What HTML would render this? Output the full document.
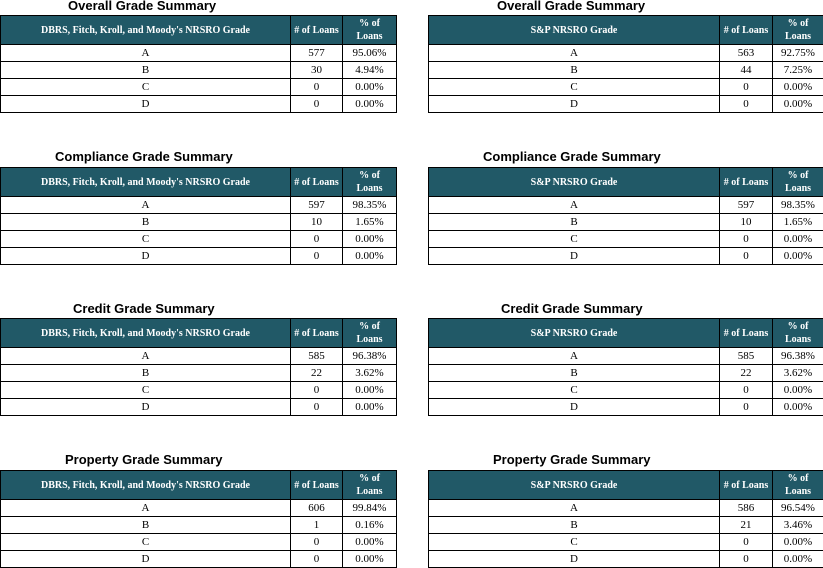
<!DOCTYPE html>
<html><head><style>
body{margin:0;width:823px;height:567px;background:#fff;position:relative;overflow:hidden;font-family:"Liberation Serif",serif;}
.t{position:absolute;font-family:"Liberation Sans",sans-serif;font-weight:bold;font-size:13px;color:#000;}
table{position:absolute;border-collapse:collapse;table-layout:fixed;}
td{border:1.5px solid #000;padding:0;text-align:center;font-size:11px;height:16px;line-height:15px;}
th{background:#215967;color:#fff;border:1.5px solid #000;font-size:10px;font-weight:bold;height:28px;line-height:13px;padding:0;}
</style></head><body>
<div class="t" style="left:68px;top:-2px">Overall Grade Summary</div>
<div class="t" style="left:497px;top:-2px">Overall Grade Summary</div>
<div class="t" style="left:55px;top:149px">Compliance Grade Summary</div>
<div class="t" style="left:483px;top:149px">Compliance Grade Summary</div>
<div class="t" style="left:73px;top:301px">Credit Grade Summary</div>
<div class="t" style="left:501px;top:301px">Credit Grade Summary</div>
<div class="t" style="left:65px;top:452px">Property Grade Summary</div>
<div class="t" style="left:493px;top:452px">Property Grade Summary</div>

<table style="left:0;top:15px;width:396px"><colgroup><col style="width:290px"><col style="width:52px"><col style="width:54px"></colgroup>
<tr><th>DBRS, Fitch, Kroll, and Moody's NRSRO Grade</th><th># of Loans</th><th>% of<br>Loans</th></tr>
<tr><td>A</td><td>577</td><td>95.06%</td></tr><tr><td>B</td><td>30</td><td>4.94%</td></tr><tr><td>C</td><td>0</td><td>0.00%</td></tr><tr><td>D</td><td>0</td><td>0.00%</td></tr></table>
<table style="left:428px;top:15px;width:395px"><colgroup><col style="width:291px"><col style="width:53px"><col style="width:51px"></colgroup>
<tr><th>S&amp;P NRSRO Grade</th><th># of Loans</th><th>% of<br>Loans</th></tr>
<tr><td>A</td><td>563</td><td>92.75%</td></tr><tr><td>B</td><td>44</td><td>7.25%</td></tr><tr><td>C</td><td>0</td><td>0.00%</td></tr><tr><td>D</td><td>0</td><td>0.00%</td></tr></table>

<table style="left:0;top:167px;width:396px"><colgroup><col style="width:290px"><col style="width:52px"><col style="width:54px"></colgroup>
<tr><th>DBRS, Fitch, Kroll, and Moody's NRSRO Grade</th><th># of Loans</th><th>% of<br>Loans</th></tr>
<tr><td>A</td><td>597</td><td>98.35%</td></tr><tr><td>B</td><td>10</td><td>1.65%</td></tr><tr><td>C</td><td>0</td><td>0.00%</td></tr><tr><td>D</td><td>0</td><td>0.00%</td></tr></table>
<table style="left:428px;top:167px;width:395px"><colgroup><col style="width:291px"><col style="width:53px"><col style="width:51px"></colgroup>
<tr><th>S&amp;P NRSRO Grade</th><th># of Loans</th><th>% of<br>Loans</th></tr>
<tr><td>A</td><td>597</td><td>98.35%</td></tr><tr><td>B</td><td>10</td><td>1.65%</td></tr><tr><td>C</td><td>0</td><td>0.00%</td></tr><tr><td>D</td><td>0</td><td>0.00%</td></tr></table>

<table style="left:0;top:318px;width:396px"><colgroup><col style="width:290px"><col style="width:52px"><col style="width:54px"></colgroup>
<tr><th>DBRS, Fitch, Kroll, and Moody's NRSRO Grade</th><th># of Loans</th><th>% of<br>Loans</th></tr>
<tr><td>A</td><td>585</td><td>96.38%</td></tr><tr><td>B</td><td>22</td><td>3.62%</td></tr><tr><td>C</td><td>0</td><td>0.00%</td></tr><tr><td>D</td><td>0</td><td>0.00%</td></tr></table>
<table style="left:428px;top:318px;width:395px"><colgroup><col style="width:291px"><col style="width:53px"><col style="width:51px"></colgroup>
<tr><th>S&amp;P NRSRO Grade</th><th># of Loans</th><th>% of<br>Loans</th></tr>
<tr><td>A</td><td>585</td><td>96.38%</td></tr><tr><td>B</td><td>22</td><td>3.62%</td></tr><tr><td>C</td><td>0</td><td>0.00%</td></tr><tr><td>D</td><td>0</td><td>0.00%</td></tr></table>

<table style="left:0;top:470px;width:396px"><colgroup><col style="width:290px"><col style="width:52px"><col style="width:54px"></colgroup>
<tr><th>DBRS, Fitch, Kroll, and Moody's NRSRO Grade</th><th># of Loans</th><th>% of<br>Loans</th></tr>
<tr><td>A</td><td>606</td><td>99.84%</td></tr><tr><td>B</td><td>1</td><td>0.16%</td></tr><tr><td>C</td><td>0</td><td>0.00%</td></tr><tr><td>D</td><td>0</td><td>0.00%</td></tr></table>
<table style="left:428px;top:470px;width:395px"><colgroup><col style="width:291px"><col style="width:53px"><col style="width:51px"></colgroup>
<tr><th>S&amp;P NRSRO Grade</th><th># of Loans</th><th>% of<br>Loans</th></tr>
<tr><td>A</td><td>586</td><td>96.54%</td></tr><tr><td>B</td><td>21</td><td>3.46%</td></tr><tr><td>C</td><td>0</td><td>0.00%</td></tr><tr><td>D</td><td>0</td><td>0.00%</td></tr></table>
</body></html>
